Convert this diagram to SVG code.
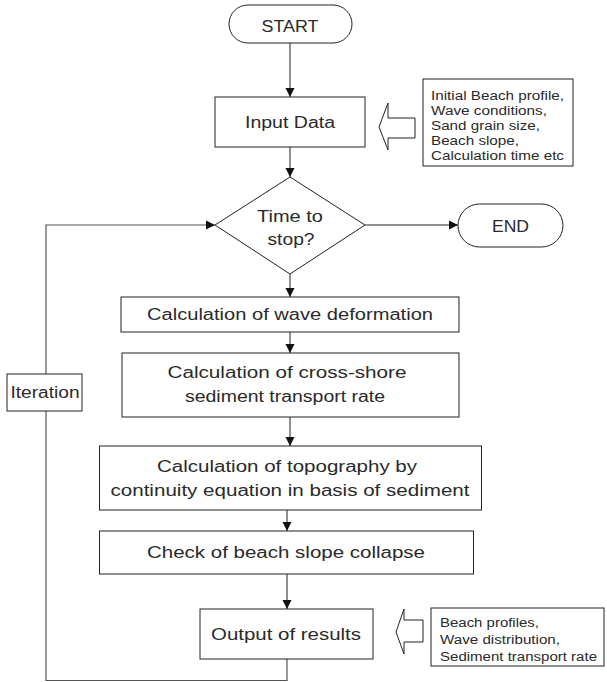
<svg xmlns="http://www.w3.org/2000/svg" width="607" height="682" viewBox="0 0 607 682">
<style>
.box{fill:#fff;stroke:#222;stroke-width:1}
.ln{fill:none;stroke:#222;stroke-width:1}
.loop{fill:none;stroke:#555;stroke-width:1.2}
.t{font-family:"Liberation Sans",Arial,sans-serif;font-size:16px;fill:#2a2a2a;text-anchor:middle}
.s{font-family:"Liberation Sans",Arial,sans-serif;font-size:12px;fill:#2a2a2a}
</style>
<defs>
<marker id="ah" markerUnits="userSpaceOnUse" markerWidth="10" markerHeight="10" refX="9" refY="5" orient="auto">
<path d="M0,0.5 L9,5 L0,9.5 z" fill="#111"/>
</marker>
</defs>
<rect width="607" height="682" fill="#fff"/>
<g id="connectors">
<path class="ln" d="M290,43 V97" marker-end="url(#ah)"/>
<path class="ln" d="M290,147 V177" marker-end="url(#ah)"/>
<path class="ln" d="M365,225 H458" marker-end="url(#ah)"/>
<path class="ln" d="M290,274 V297" marker-end="url(#ah)"/>
<path class="ln" d="M290,332 V353" marker-end="url(#ah)"/>
<path class="ln" d="M290,417 V446" marker-end="url(#ah)"/>
<path class="ln" d="M287,510 V531" marker-end="url(#ah)"/>
<path class="ln" d="M287,574 V609" marker-end="url(#ah)"/>
<path class="loop" d="M287,659 V680.5 H46 V225 H215" marker-end="url(#ah)"/>
<polygon class="box" points="379,127 388,103 388,118 415,118 415,138 388,138 388,150"/>
<polygon class="box" points="396,632 404,609 404,620 423,620 423,642 404,642 404,654"/>
</g>
<g id="start">
<rect class="box" x="229" y="5" width="123" height="38" rx="19"/>
<text class="t" x="290" y="32" textLength="57" lengthAdjust="spacingAndGlyphs">START</text>
</g>
<g id="input">
<rect class="box" x="215" y="97" width="150" height="50"/>
<text class="t" x="290" y="128" textLength="90" lengthAdjust="spacingAndGlyphs">Input Data</text>
</g>
<g id="input-info">
<rect class="box" x="423" y="79" width="150" height="87"/>
<text class="s" x="431" y="99.5" textLength="133" lengthAdjust="spacingAndGlyphs">Initial Beach profile,</text>
<text class="s" x="431" y="114.5" textLength="116" lengthAdjust="spacingAndGlyphs">Wave conditions,</text>
<text class="s" x="431" y="129.5" textLength="109" lengthAdjust="spacingAndGlyphs">Sand grain size,</text>
<text class="s" x="431" y="144.5" textLength="88" lengthAdjust="spacingAndGlyphs">Beach slope,</text>
<text class="s" x="431" y="159.5" textLength="133" lengthAdjust="spacingAndGlyphs">Calculation time etc</text>
</g>
<g id="decision">
<polygon class="box" points="290,177 365,225 290,274 215,225"/>
<text class="t" x="290" y="222" textLength="66" lengthAdjust="spacingAndGlyphs">Time to</text>
<text class="t" x="291" y="245" textLength="47" lengthAdjust="spacingAndGlyphs">stop?</text>
</g>
<g id="end">
<rect class="box" x="458" y="204" width="105" height="43" rx="21.5"/>
<text class="t" x="510.5" y="232" textLength="37" lengthAdjust="spacingAndGlyphs">END</text>
</g>
<g id="wave">
<rect class="box" x="121" y="297" width="338" height="35"/>
<text class="t" x="290" y="320" textLength="286" lengthAdjust="spacingAndGlyphs">Calculation of wave deformation</text>
</g>
<g id="cross">
<rect class="box" x="122" y="353" width="337" height="64"/>
<text class="t" x="287" y="378" textLength="239" lengthAdjust="spacingAndGlyphs">Calculation of cross-shore</text>
<text class="t" x="285" y="402" textLength="200" lengthAdjust="spacingAndGlyphs">sediment transport rate</text>
</g>
<g id="topo">
<rect class="box" x="99.5" y="446" width="382" height="64"/>
<text class="t" x="287" y="472" textLength="260" lengthAdjust="spacingAndGlyphs">Calculation of topography by</text>
<text class="t" x="290" y="496" textLength="359" lengthAdjust="spacingAndGlyphs">continuity equation in basis of sediment</text>
</g>
<g id="check">
<rect class="box" x="99.5" y="531" width="374" height="43"/>
<text class="t" x="286" y="558" textLength="278" lengthAdjust="spacingAndGlyphs">Check of beach slope collapse</text>
</g>
<g id="output">
<rect class="box" x="200" y="609" width="173" height="50"/>
<text class="t" x="286" y="640" textLength="150" lengthAdjust="spacingAndGlyphs">Output of results</text>
</g>
<g id="output-info">
<rect class="box" x="431" y="608" width="173" height="58"/>
<text class="s" x="440" y="627" textLength="99" lengthAdjust="spacingAndGlyphs">Beach profiles,</text>
<text class="s" x="440" y="644" textLength="120" lengthAdjust="spacingAndGlyphs">Wave distribution,</text>
<text class="s" x="440" y="661" textLength="157" lengthAdjust="spacingAndGlyphs">Sediment transport rate</text>
</g>
<g id="iteration">
<rect class="box" x="7" y="374" width="75" height="37"/>
<text class="t" x="45" y="398" textLength="69" lengthAdjust="spacingAndGlyphs">Iteration</text>
</g>
</svg>
